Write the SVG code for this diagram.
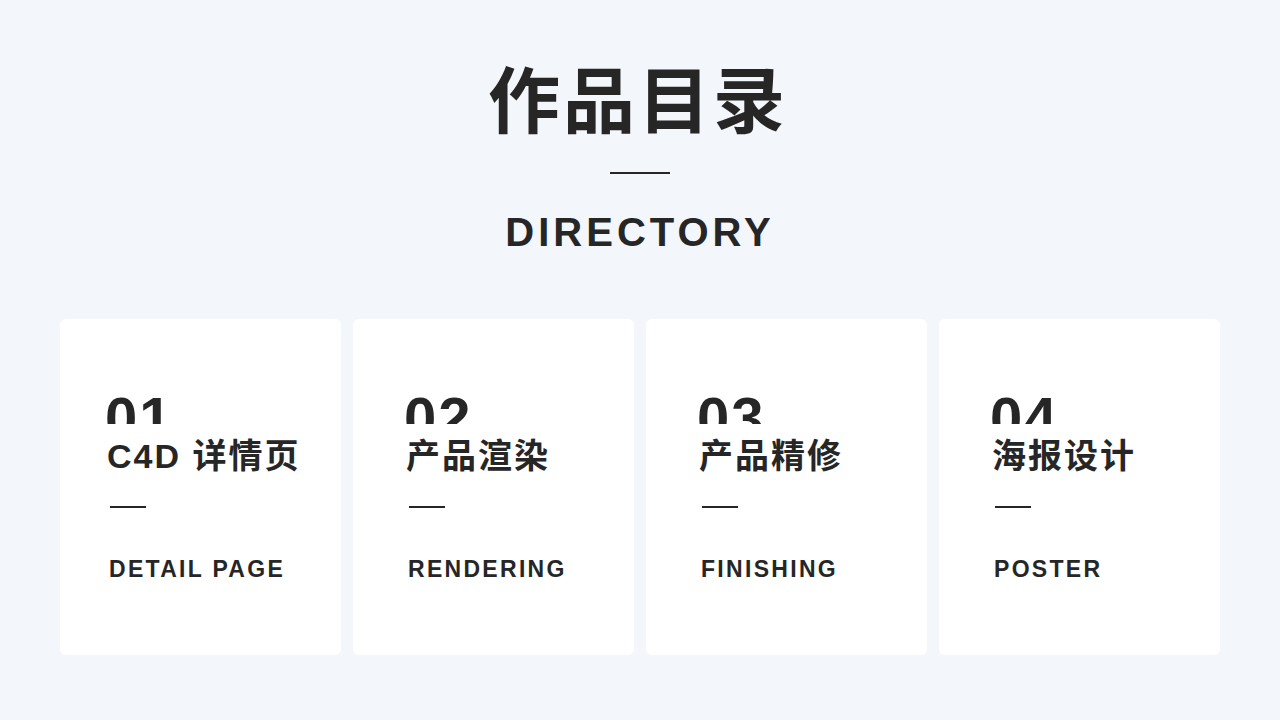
<svg xmlns="http://www.w3.org/2000/svg" width="1280" height="720" viewBox="0 0 1280 720">
<defs>
<style>
.card{fill:#fff}
.num{font-family:"Liberation Sans",Arial,sans-serif;font-weight:bold;font-size:58px;fill:#262626;letter-spacing:2px}
.zh{font-family:"Liberation Sans","Noto Sans CJK SC",sans-serif;font-weight:bold;font-size:34px;fill:#262626;letter-spacing:2px}
.en{font-family:"Liberation Sans",Arial,sans-serif;font-weight:bold;font-size:23px;fill:#262626;letter-spacing:2.3px}
.ln{stroke:#262626;stroke-width:2}
</style>
<clipPath id="cl"><rect x="0" y="380" width="1280" height="44"/></clipPath>
</defs>
<rect width="1280" height="720" fill="#f3f6fa"/>
<g id="header">
<text x="638" y="127" text-anchor="middle" font-family="Noto Sans CJK SC,sans-serif" font-weight="bold" font-size="72" fill="#262626" letter-spacing="3">作品目录</text>
<line class="ln" x1="610" y1="173" x2="670" y2="173"/>
<text x="640" y="246" text-anchor="middle" font-family="Liberation Sans,Arial,sans-serif" font-weight="bold" font-size="40" fill="#262626" letter-spacing="4">DIRECTORY</text>
</g>
<g id="card1"><rect class="card" x="60" y="319" width="281" height="336" rx="6"/>
<text class="num" x="105" y="438" clip-path="url(#cl)">01</text>
<text class="zh" x="107" y="468">C4D 详情页</text>
<line class="ln" x1="110" y1="507" x2="146" y2="507"/>
<text class="en" x="109" y="577">DETAIL PAGE</text></g>
<g id="card2"><rect class="card" x="353" y="319" width="281" height="336" rx="6"/>
<text class="num" x="404" y="438" clip-path="url(#cl)">02</text>
<text class="zh" x="406" y="468">产品渲染</text>
<line class="ln" x1="409" y1="507" x2="445" y2="507"/>
<text class="en" x="408" y="577">RENDERING</text></g>
<g id="card3"><rect class="card" x="646" y="319" width="281" height="336" rx="6"/>
<text class="num" x="697" y="438" clip-path="url(#cl)">03</text>
<text class="zh" x="699" y="468">产品精修</text>
<line class="ln" x1="702" y1="507" x2="738" y2="507"/>
<text class="en" x="701" y="577">FINISHING</text></g>
<g id="card4"><rect class="card" x="939" y="319" width="281" height="336" rx="6"/>
<text class="num" x="990" y="438" clip-path="url(#cl)">04</text>
<text class="zh" x="992" y="468">海报设计</text>
<line class="ln" x1="995" y1="507" x2="1031" y2="507"/>
<text class="en" x="994" y="577">POSTER</text></g>
<g id="connectors"/>
</svg>
